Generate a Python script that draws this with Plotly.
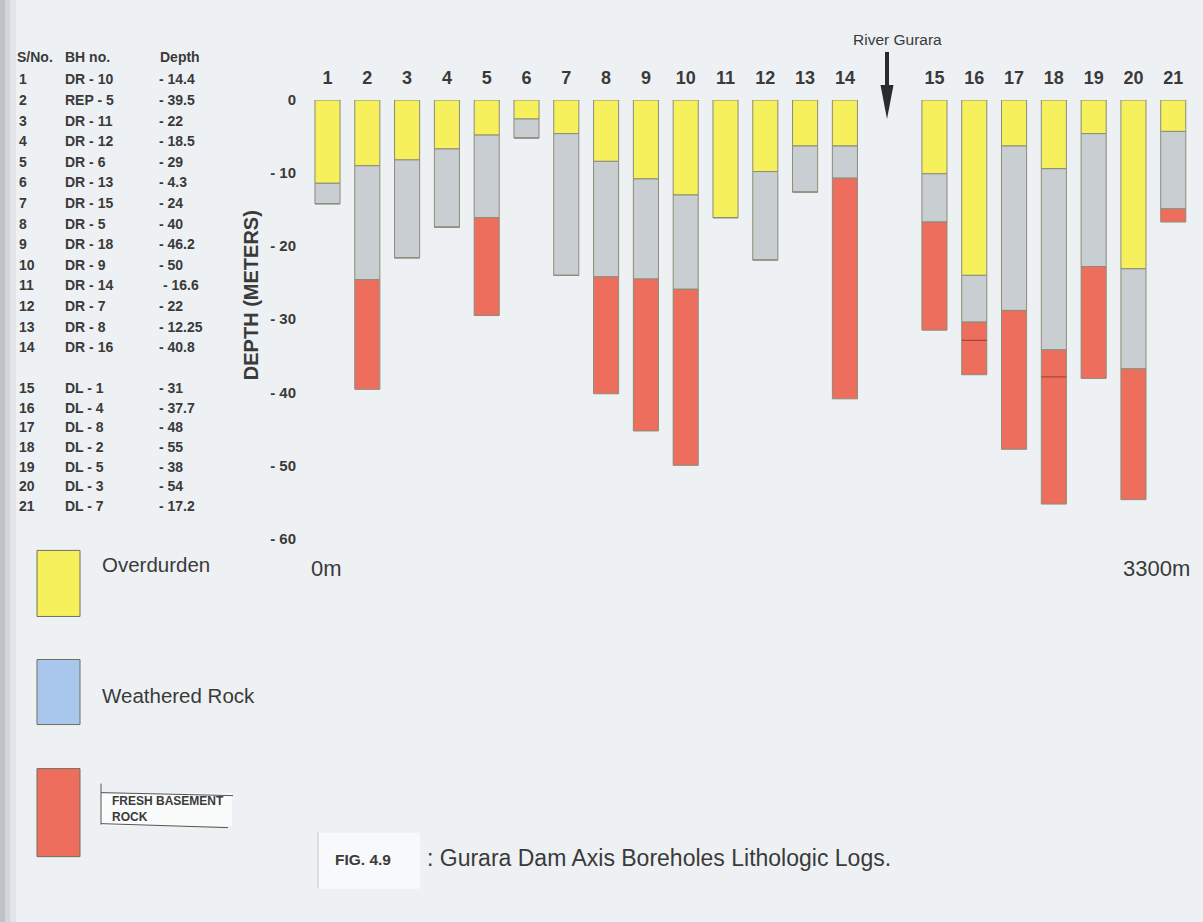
import plotly.graph_objects as go

# ---------------- DATA ----------------
sno = [str(i) for i in range(1, 22)]
bh_no = ["DR - 10", "REP - 5", "DR - 11", "DR - 12", "DR - 6", "DR - 13", "DR - 15",
         "DR - 5", "DR - 18", "DR - 9", "DR - 14", "DR - 7", "DR - 8", "DR - 16",
         "DL - 1", "DL - 4", "DL - 8", "DL - 2", "DL - 5", "DL - 3", "DL - 7"]
depth_text = ["- 14.4", "- 39.5", "- 22", "- 18.5", "- 29", "- 4.3", "- 24", "- 40",
              "- 46.2", "- 50", " - 16.6", "- 22", "- 12.25", "- 40.8",
              "- 31", "- 37.7", "- 48", "- 55", "- 38", "- 54", "- 17.2"]
# relative chainage of each borehole along the dam axis (0m ... 3300m)
bh_position = [1, 2, 3, 4, 5, 6, 7, 8, 9, 10, 11, 12, 13, 14,
               16.25, 17.25, 18.25, 19.25, 20.25, 21.25, 22.25]
river_position = 15.05
# depths (m) of layer bottoms
overburden_bottom = [11.4, 9.0, 8.2, 6.7, 4.8, 2.6, 4.6, 8.4, 10.8, 13.0, 16.1,
                     9.8, 6.3, 6.3, 10.1, 24.0, 6.3, 9.4, 4.6, 23.1, 4.3]
weathered_bottom = [14.2, 24.6, 21.6, 17.4, 16.1, 5.2, 24.0, 24.2, 24.5, 25.9, 16.1,
                    21.9, 12.6, 10.7, 16.7, 30.4, 28.8, 34.2, 22.8, 36.8, 14.9]
total_depth = [14.2, 39.6, 21.6, 17.4, 29.5, 5.2, 24.0, 40.2, 45.3, 50.0, 16.1,
               21.9, 12.6, 40.9, 31.5, 37.6, 47.8, 55.3, 38.1, 54.7, 16.7]
# internal boundaries drawn inside the fresh rock of boreholes 16 and 18
fresh_break_bh = [16, 18]
fresh_break_depth = [32.9, 37.9]
y_ticks = [0, -10, -20, -30, -40, -50, -60]
y_tick_text = ["0", "- 10", "- 20", "- 30", "- 40", "- 50", "- 60"]
legend_labels = ["Overdurden", "Weathered Rock", "FRESH BASEMENT<br>ROCK"]

# ---------------- STYLE / LAYOUT ----------------
W, H = 1203, 922
L, R, T, B = 300, 1195, 100, 552.6
BG = "#EEF1F4"
YEL, GRY, RED, BLU = "#F5F05C", "#C9CED3", "#EE6E5E", "#A9C6EC"
EDGE = "#8C8C78"
TXT = "#3A3A3A"
BAR_W = 0.63
SANS = "Liberation Sans, Arial, sans-serif"


def xp(px):
    return (px - L) / (R - L)


def yp(py):
    return (B - py) / (B - T)


fig = go.Figure()

ob_thick = [-d for d in overburden_bottom]
wr_thick = [-(w - o) for w, o in zip(weathered_bottom, overburden_bottom)]
fr_thick = [-(t - w) for t, w in zip(total_depth, weathered_bottom)]

for name, base, vals, col in [
    ("Overburden", [0] * 21, ob_thick, YEL),
    ("Weathered Rock", [-o for o in overburden_bottom], wr_thick, GRY),
    ("Fresh Basement Rock", [-w for w in weathered_bottom], fr_thick, RED),
]:
    fig.add_trace(go.Bar(
        x=bh_position, y=vals, base=base, width=BAR_W, name=name,
        marker=dict(color=col, line=dict(color=EDGE, width=1)),
        showlegend=False, hoverinfo="skip"))

bx, by = [], []
for bh, d in zip(fresh_break_bh, fresh_break_depth):
    p = bh_position[bh - 1]
    bx += [p - BAR_W / 2, p + BAR_W / 2, None]
    by += [-d, -d, None]
fig.add_trace(go.Scatter(x=bx, y=by, mode="lines", line=dict(color="#A0473C", width=1.2),
                         showlegend=False, hoverinfo="skip"))

x_unit = 39.8
x0 = 1 - (327.5 - L) / x_unit
x1 = x0 + (R - L) / x_unit

fig.update_layout(
    width=W, height=H, paper_bgcolor=BG, plot_bgcolor=BG,
    margin=dict(l=L, r=W - R, t=T, b=H - B, autoexpand=False),
    barmode="overlay", showlegend=False,
    font=dict(family=SANS, color=TXT),
    xaxis=dict(range=[x0, x1], side="top", tickvals=bh_position, ticktext=sno,
               showgrid=False, zeroline=False, showline=False, ticks="",
               tickfont=dict(size=18, weight="bold", color=TXT), ticklabelstandoff=11),
    yaxis=dict(range=[-62, 0], tickvals=y_ticks, ticktext=y_tick_text,
               showgrid=False, zeroline=False, showline=False, ticks="",
               tickfont=dict(size=15, weight="bold", color=TXT), ticklabelstandoff=3),
)

ann = []
shapes = []


def text(px, py, s, size, bold=False, anchor="left", color=TXT, angle=0):
    ann.append(dict(x=xp(px), y=yp(py), xref="paper", yref="paper", text=s, showarrow=False,
                    xanchor=anchor, yanchor="middle", textangle=angle, align="left",
                    font=dict(size=size, color=color, family=SANS,
                              weight="bold" if bold else "normal")))


# table
text(15, 57, "S/No.", 14, True)
text(63, 57, "BH no.", 14, True)
text(158, 57, "Depth", 14, True)
row_y = [79.3 + 20.6 * i for i in range(14)] + [388 + 19.6 * i for i in range(7)]
for i in range(21):
    text(17, row_y[i], sno[i], 14, True)
    text(63, row_y[i], bh_no[i], 14, True)
    text(157, row_y[i], depth_text[i], 14, True)

# axis title
text(251, 295, "DEPTH (METERS)", 20, True, anchor="center", angle=-90)

# distance labels
text(309, 568, "0m", 22)
text(1192, 568, "3300m", 22, anchor="right")

# river
text(897, 40, "River Gurara", 15.5, anchor="center")
shapes.append(dict(type="rect", xref="paper", yref="paper",
                   x0=xp(885), x1=xp(889), y0=yp(88), y1=yp(52),
                   fillcolor="#2B2B2B", line=dict(width=0)))
shapes.append(dict(type="path", xref="paper", yref="paper",
                   path=f"M {xp(880.5)} {yp(85)} L {xp(893.5)} {yp(85)} L {xp(887)} {yp(119)} Z",
                   fillcolor="#2B2B2B", line=dict(width=0)))

# legend
for (y0, y1), col in zip([(550, 616), (659, 724), (768, 856)], [YEL, BLU, RED]):
    shapes.append(dict(type="rect", xref="paper", yref="paper",
                       x0=xp(37), x1=xp(80), y0=yp(y1), y1=yp(y0),
                       fillcolor=col, line=dict(color="#707060", width=1)))
text(100, 564, legend_labels[0], 20.5)
text(100, 695, legend_labels[1], 20.5)
shapes.append(dict(type="rect", xref="paper", yref="paper",
                   x0=xp(101), x1=xp(232), y0=yp(825), y1=yp(793),
                   fillcolor="#FAFBFB", line=dict(width=0)))
for (ax0, ay0, ax1, ay1) in [(101, 783, 101, 824), (101, 792, 233, 795), (101, 823, 228, 827)]:
    shapes.append(dict(type="line", xref="paper", yref="paper",
                       x0=xp(ax0), y0=yp(ay0), x1=xp(ax1), y1=yp(ay1),
                       line=dict(color="#555555", width=1)))
text(110, 808, legend_labels[2], 12, True)

# caption
shapes.append(dict(type="rect", xref="paper", yref="paper",
                   x0=xp(318), x1=xp(420), y0=yp(888), y1=yp(832),
                   fillcolor="#F8F9FA", line=dict(width=0)))
shapes.append(dict(type="line", xref="paper", yref="paper",
                   x0=xp(318), x1=xp(318), y0=yp(888), y1=yp(832),
                   line=dict(color="#C4C4C4", width=1)))
text(333, 859, "FIG. 4.9", 15.5, True)
text(425, 857, ": Gurara Dam Axis Boreholes Lithologic Logs.", 23)

# scanned page left-edge shading
for (a, b_, c) in [(0, 5, "#BFC3C7"), (5, 10, "#D2D5D9"), (10, 16, "#E2E5E8")]:
    shapes.append(dict(type="rect", xref="paper", yref="paper", layer="below",
                       x0=xp(a), x1=xp(b_), y0=yp(H), y1=yp(0),
                       fillcolor=c, line=dict(width=0)))

fig.update_layout(annotations=ann, shapes=shapes)
fig.write_html("out.html", config={"displayModeBar": False},
               post_script="document.body.style.margin='0';"
                           "document.body.style.background='#EEF1F4';")
